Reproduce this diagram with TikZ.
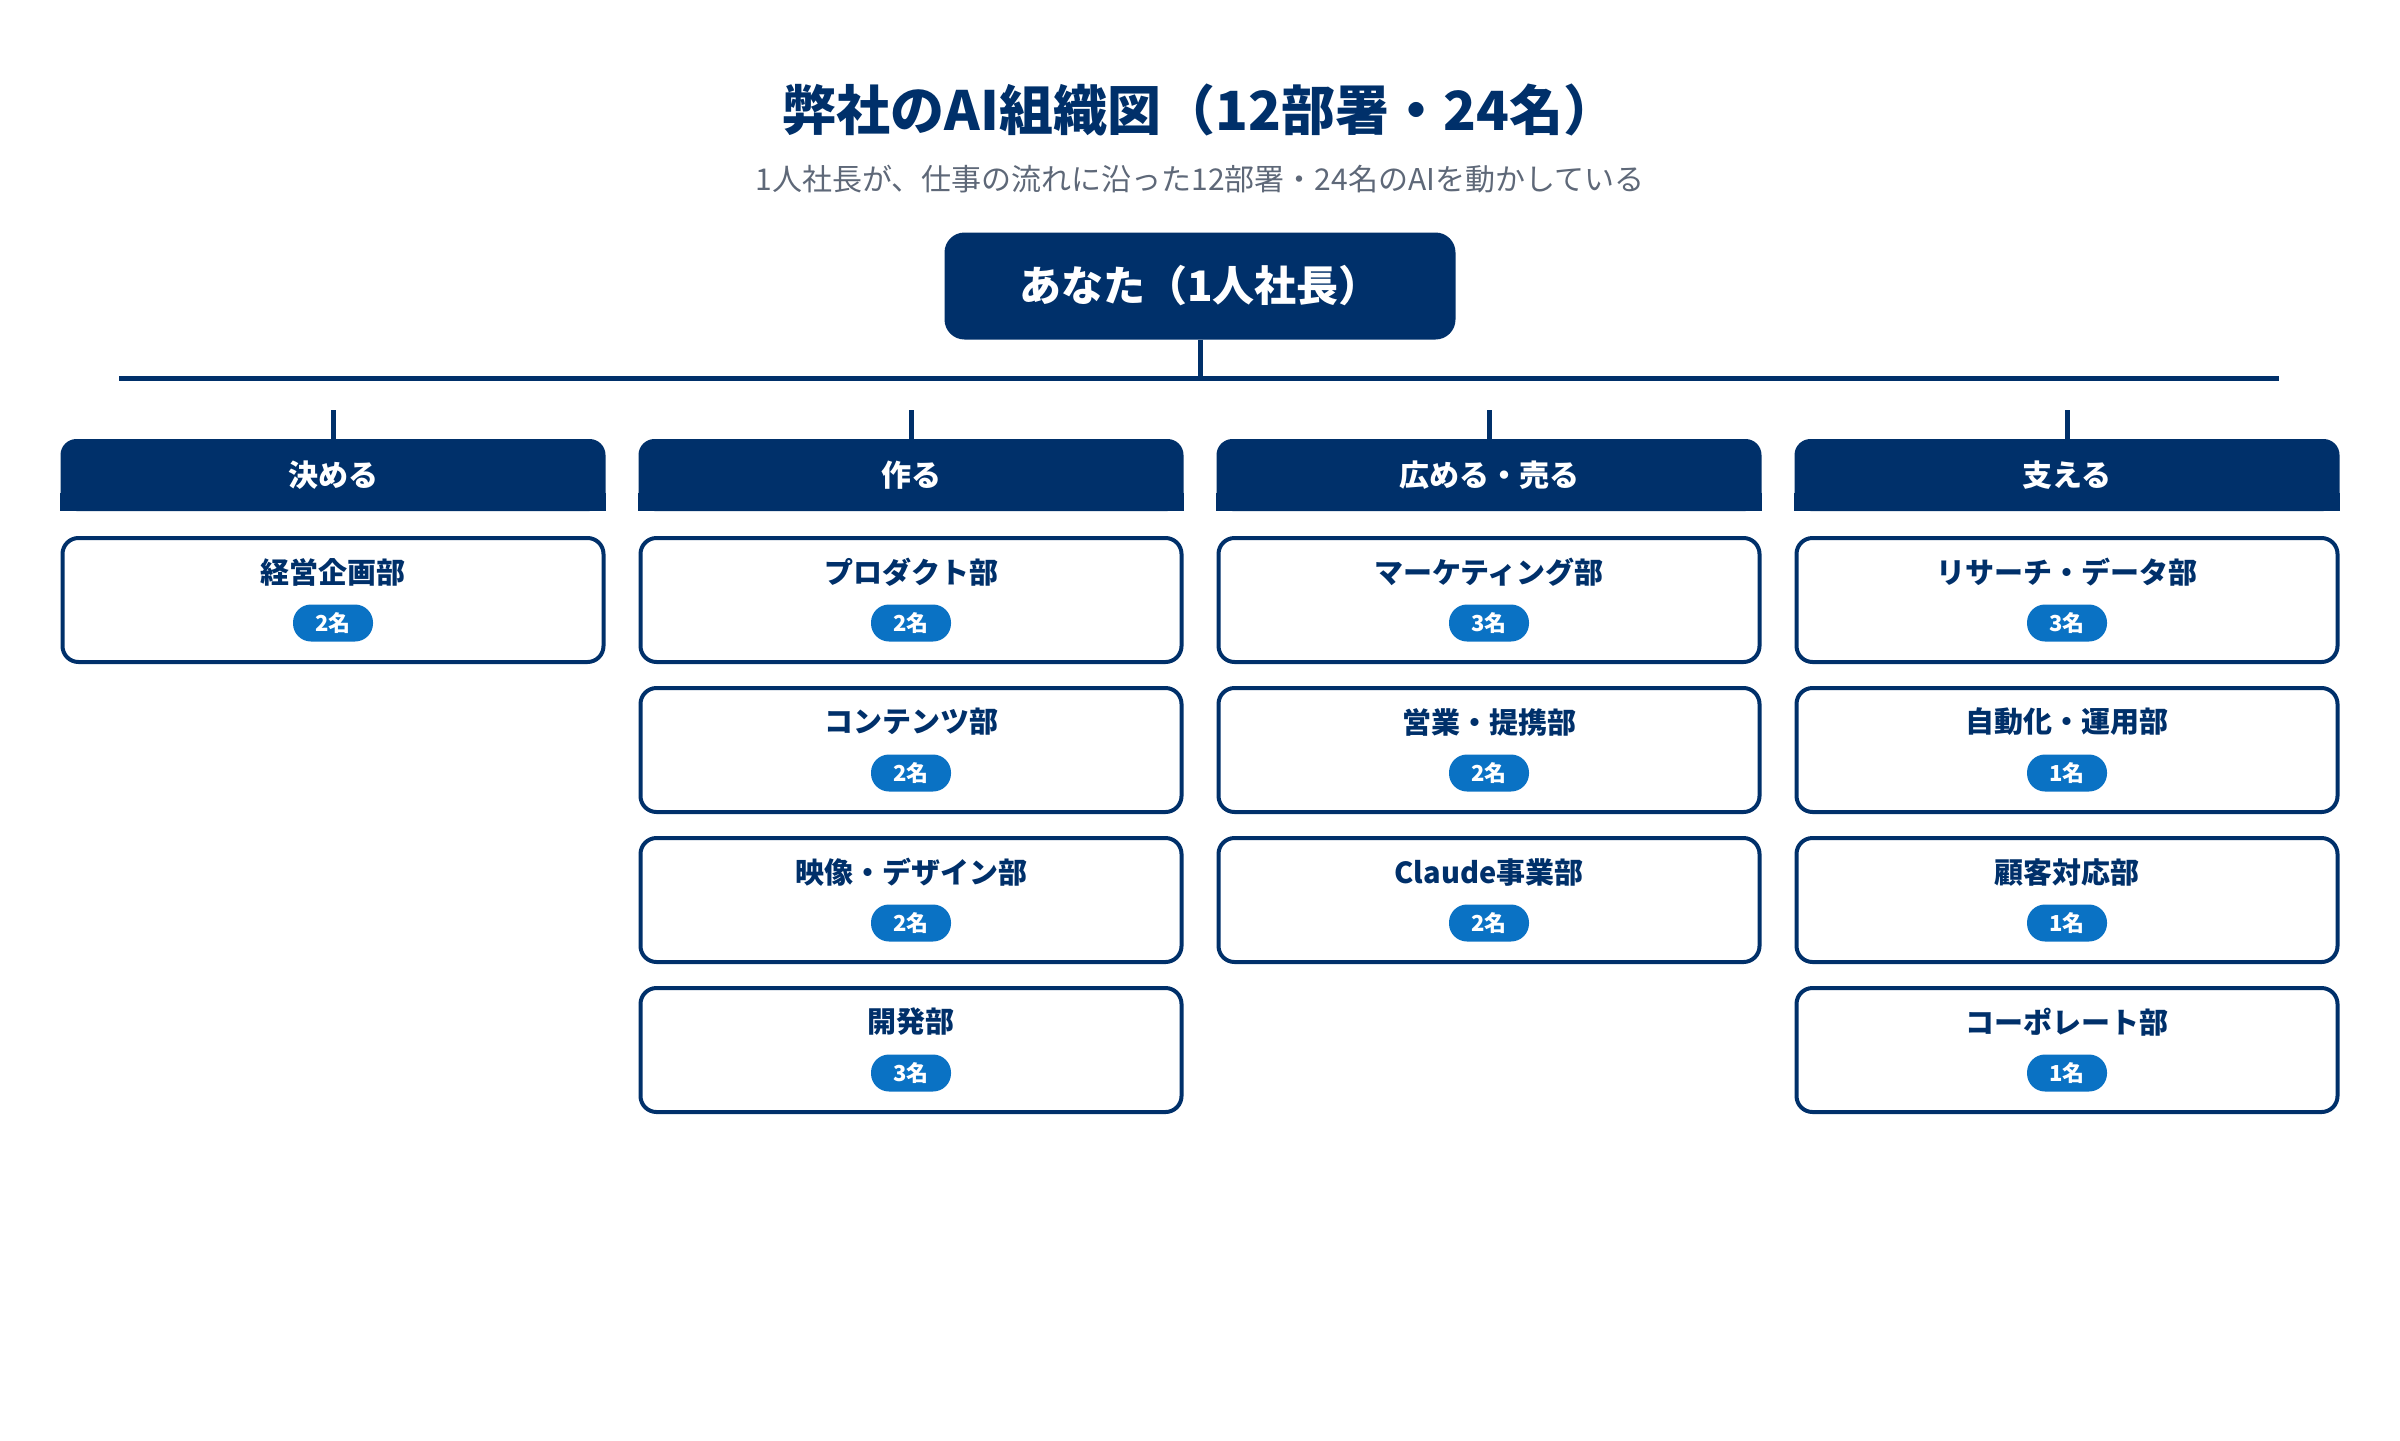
\documentclass[tikz,border=0pt]{standalone}
\usepackage{fontspec}
\setmainfont{Noto Sans CJK JP}
\usetikzlibrary{calc}
\definecolor{navy}{HTML}{00306A}
\definecolor{badgeblue}{HTML}{0A72C4}
\definecolor{subgray}{HTML}{5E6878}
\tikzset{
	link/.style={draw=navy, line width=5pt},
	boss/.style={fill=navy, rounded corners=20pt, minimum width=511pt, minimum height=107pt, text=white, font=\fontsize{42}{48}\selectfont\bfseries},
	hdr/.style={fill=navy, rounded corners=16pt, minimum width=545pt, minimum height=72pt, text=white, font=\fontsize{30}{36}\selectfont\bfseries},
	dept/.style={draw=navy, line width=4pt, rounded corners=16pt, minimum width=541pt, minimum height=124pt},
	dname/.style={text=navy, inner sep=0pt, font=\fontsize{29}{34}\selectfont\bfseries},
	badge/.style={fill=badgeblue, rounded corners=18pt, minimum width=80pt, minimum height=37pt, inner sep=0pt, text=white, font=\fontsize{22}{26}\selectfont\bfseries},
}

\begin{document}
\begin{tikzpicture}[x=1pt, y=-1pt]
		\useasboundingbox (0,0) rectangle (2400,1440);
		\node[text=navy, font=\fontsize{54}{60}\selectfont\bfseries] (title) at (1200,110) {弊社のAI組織図（12部署・24名）};
		\node[text=subgray, font=\fontsize{30}{36}\selectfont] (sub) at (1200,179) {1人社長が、仕事の流れに沿った12部署・24名のAIを動かしている};
		\node[boss] (you) at (1200,286) {あなた（1人社長）};
		\coordinate (busl) at (119,378);
		\coordinate (busm) at (1200,378);
		\coordinate (busr) at (2279,378);
		\draw[link] (busl) -- (busr);
		\draw[link] (you) -- (busm);

		\node[hdr] (h1) at (333,475) {決める};
		\node[hdr] (h2) at (911,475) {作る};
		\node[hdr] (h3) at (1489,475) {広める・売る};
		\node[hdr] (h4) at (2067,475) {支える};
		\foreach \h in {h1,h2,h3,h4}
			\fill[navy] ($(\h.south west)+(0,-18)$) rectangle (\h.south east);
		\coordinate (t1) at (333,410);
		\coordinate (t2) at (911,410);
		\coordinate (t3) at (1489,410);
		\coordinate (t4) at (2067,410);
		\draw[link] (t1) -- (h1);
		\draw[link] (t2) -- (h2);
		\draw[link] (t3) -- (h3);
		\draw[link] (t4) -- (h4);

		\node[dept] (d1a) at (333,600) {};
		\node[dname] (n1a) at (333,572) {経営企画部};
		\node[badge] (c1a) at (333,623) {2名};

		\node[dept] (d2a) at (911,600) {};
		\node[dname] (n2a) at (911,572) {プロダクト部};
		\node[badge] (c2a) at (911,623) {2名};
		\node[dept] (d2b) at (911,750) {};
		\node[dname] (n2b) at (911,722) {コンテンツ部};
		\node[badge] (c2b) at (911,773) {2名};
		\node[dept] (d2c) at (911,900) {};
		\node[dname] (n2c) at (911,872) {映像・デザイン部};
		\node[badge] (c2c) at (911,923) {2名};
		\node[dept] (d2d) at (911,1050) {};
		\node[dname] (n2d) at (911,1022) {開発部};
		\node[badge] (c2d) at (911,1073) {3名};

		\node[dept] (d3a) at (1489,600) {};
		\node[dname] (n3a) at (1489,572) {マーケティング部};
		\node[badge] (c3a) at (1489,623) {3名};
		\node[dept] (d3b) at (1489,750) {};
		\node[dname] (n3b) at (1489,722) {営業・提携部};
		\node[badge] (c3b) at (1489,773) {2名};
		\node[dept] (d3c) at (1489,900) {};
		\node[dname] (n3c) at (1489,872) {Claude事業部};
		\node[badge] (c3c) at (1489,923) {2名};

		\node[dept] (d4a) at (2067,600) {};
		\node[dname] (n4a) at (2067,572) {リサーチ・データ部};
		\node[badge] (c4a) at (2067,623) {3名};
		\node[dept] (d4b) at (2067,750) {};
		\node[dname] (n4b) at (2067,722) {自動化・運用部};
		\node[badge] (c4b) at (2067,773) {1名};
		\node[dept] (d4c) at (2067,900) {};
		\node[dname] (n4c) at (2067,872) {顧客対応部};
		\node[badge] (c4c) at (2067,923) {1名};
		\node[dept] (d4d) at (2067,1050) {};
		\node[dname] (n4d) at (2067,1022) {コーポレート部};
		\node[badge] (c4d) at (2067,1073) {1名};
	\end{tikzpicture}
\end{document}
